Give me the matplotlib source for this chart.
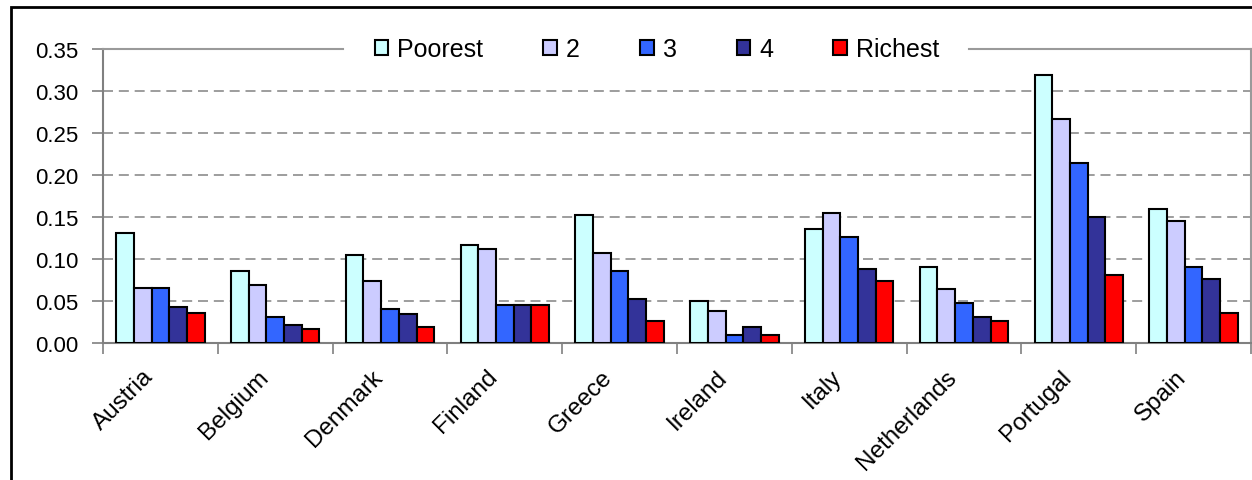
import numpy as np
import matplotlib
matplotlib.use('Agg')
import matplotlib.pyplot as plt
from matplotlib.patches import Rectangle

plt.rcParams['font.family'] = ['Liberation Sans', 'DejaVu Sans']

# --- data ---
countries = ['Austria', 'Belgium', 'Denmark', 'Finland', 'Greece',
             'Ireland', 'Italy', 'Netherlands', 'Portugal', 'Spain']
groups = ['Poorest', '2', '3', '4', 'Richest']
poorest = [0.131, 0.086, 0.105, 0.117, 0.152, 0.050, 0.136, 0.090, 0.319, 0.160]
q2      = [0.066, 0.069, 0.074, 0.112, 0.107, 0.038, 0.155, 0.064, 0.267, 0.145]
q3      = [0.066, 0.031, 0.040, 0.045, 0.086, 0.009, 0.126, 0.048, 0.214, 0.090]
q4      = [0.043, 0.021, 0.034, 0.045, 0.052, 0.019, 0.088, 0.031, 0.150, 0.076]
richest = [0.036, 0.017, 0.019, 0.045, 0.026, 0.009, 0.074, 0.026, 0.081, 0.036]
series = [poorest, q2, q3, q4, richest]
colors = ['#CCFFFF', '#CCCCFF', '#3366FF', '#333399', '#FF0000']

fig = plt.figure(figsize=(12.52, 4.81), dpi=100)
ax = fig.add_axes([103/1252, 1-344/481, 1148/1252, 294/481])

x = np.arange(len(countries))
bw = 0.154
for i, (vals, col, lab) in enumerate(zip(series, colors, groups)):
    ax.bar(x + (i - 2) * bw, vals, width=bw, color=col, edgecolor='black',
           linewidth=1.5, label=lab, zorder=3)

ax.set_xlim(-0.5, len(countries) - 0.5)
ax.set_ylim(0, 0.35)
yt = np.arange(0, 0.351, 0.05)
ax.set_yticks(yt)
ax.set_yticklabels([f'{v:.2f}' for v in yt])
# labels sit left of the group centre (tick marks hidden)
ax.set_xticks(x - 0.16)
ax.set_xticklabels(countries, rotation=45, ha='right', rotation_mode='anchor')
ax.set_xticks(np.arange(-0.5, len(countries)), minor=True)
ax.tick_params(axis='x', which='major', length=0, pad=16, labelsize=17.5)
ax.tick_params(axis='x', which='minor', length=8, width=1.2, color='#808080', direction='out')
ax.tick_params(axis='y', length=8, width=1.2, color='#808080', pad=9.5, labelsize=16)

# dashed gridlines
for v in np.arange(0.05, 0.31, 0.05):
    ax.axhline(v, color='#8c8c8c', lw=1.2, ls=(0, (6, 3.5)), zorder=1)

for s in ['left', 'bottom']:
    ax.spines[s].set_color('#808080')
    ax.spines[s].set_linewidth(1.5)
ax.spines['right'].set_color('#9a9a9a')
ax.spines['right'].set_linewidth(1.5)
ax.spines['top'].set_visible(False)
# top border, interrupted by the legend box
gap_l, gap_r = (343 - 103) / 1148, (969 - 103) / 1148
for a, b in [(0, gap_l), (gap_r, 1)]:
    ax.plot([a, b], [1, 1], transform=ax.transAxes, color='#9a9a9a', lw=1.5,
            clip_on=False, zorder=5)

leg = fig.legend(loc='center', bbox_to_anchor=(657/1252, 1-50/481), ncol=5,
                 fontsize=18, frameon=False, handlelength=0.55,
                 handleheight=0.55, handletextpad=0.36, columnspacing=2.4,
                 borderpad=0.3)

# outer chart border (cropped at right/bottom)
fig.patches.append(Rectangle((11/1252, -0.05), 1.2, 1-8/481+0.05,
                             transform=fig.transFigure, fill=False,
                             edgecolor='black', linewidth=2))

fig.savefig('out.png', dpi=100)
